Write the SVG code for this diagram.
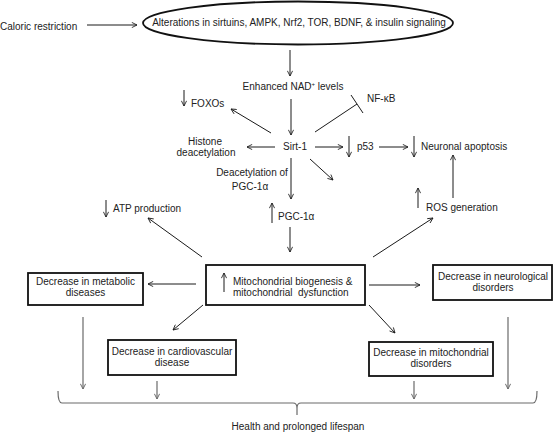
<svg xmlns="http://www.w3.org/2000/svg" width="553" height="433" viewBox="0 0 553 433">
<style>
text{font-family:"Liberation Sans",Arial,sans-serif;font-size:10px;fill:#222}
.c{text-anchor:middle}
.ln{stroke:#1a1a1a;stroke-width:1;fill:none}
.ar{stroke:#1a1a1a;stroke-width:1;fill:none;marker-end:url(#ah)}
.gr{stroke:#6a6a6a;stroke-width:1.2;fill:none}
.ga{stroke:#6a6a6a;stroke-width:1.2;fill:none;marker-end:url(#ahg)}
.box{fill:#fff;stroke:#111;stroke-width:1.8}
</style>
<defs>
<marker id="ah" viewBox="0 0 10 10" refX="9" refY="5" markerWidth="6.5" markerHeight="6.5" orient="auto" markerUnits="userSpaceOnUse"><path d="M1,1 L9,5 L1,9" fill="none" stroke="#1a1a1a" stroke-width="1.3"/></marker>
<marker id="ahg" viewBox="0 0 10 10" refX="9" refY="5" markerWidth="6.5" markerHeight="6.5" orient="auto" markerUnits="userSpaceOnUse"><path d="M1,1 L9,5 L1,9" fill="none" stroke="#6a6a6a" stroke-width="1.5"/></marker>
</defs>
<rect width="553" height="433" fill="#fff"/>

<g id="caloric"><text x="0" y="29.5">Caloric restriction</text></g>
<g id="alterations"><ellipse cx="298" cy="23" rx="155" ry="21.5" fill="#fff" stroke="#111" stroke-width="1.8"/><text class="c" x="299" y="26">Alterations in sirtuins, AMPK, Nrf2, TOR, BDNF, &amp; insulin signaling</text></g>
<g id="nad"><text class="c" x="293" y="90">Enhanced NAD<tspan font-size="6" dy="-4">+</tspan><tspan dy="4"> levels</tspan></text></g>
<g id="foxos"><line class="ar" x1="184" y1="90" x2="184" y2="106"/><text x="191" y="107">FOXOs</text></g>
<g id="nfkb"><text x="367" y="102">NF-κB</text></g>
<g id="sirt1"><text class="c" x="295" y="150">Sirt-1</text></g>
<g id="histone"><text class="c" x="205" y="145">Histone</text><text class="c" x="206" y="156">deacetylation</text></g>
<g id="p53"><line class="ar" x1="349" y1="136" x2="349" y2="157"/><text x="357" y="150">p53</text></g>
<g id="apoptosis"><line class="ar" x1="414" y1="136" x2="414" y2="157"/><text x="421" y="150">Neuronal apoptosis</text></g>
<g id="deacetylation"><text class="c" x="252" y="176">Deacetylation of</text><text class="c" x="250" y="190">PGC-1α</text></g>
<g id="atp"><line class="ar" x1="106" y1="200" x2="106" y2="217"/><text x="113" y="212">ATP production</text></g>
<g id="pgc"><line class="ar" x1="272" y1="223" x2="272" y2="203"/><text x="278" y="220">PGC-1α</text></g>
<g id="ros"><line class="ar" x1="418" y1="208" x2="418" y2="188"/><text x="426" y="211">ROS generation</text></g>
<g id="mito"><rect class="box" x="206" y="265" width="159" height="40"/><line class="ar" x1="224" y1="292" x2="224" y2="273"/><text x="233" y="285">Mitochondrial biogenesis &amp;</text><text x="233" y="296" style="white-space:pre">mitochondrial  dysfunction</text></g>
<g id="metabolic"><rect class="box" x="28" y="273" width="115" height="32"/><text class="c" x="85.5" y="285">Decrease in metabolic</text><text class="c" x="85.5" y="296">diseases</text></g>
<g id="neuro"><rect class="box" x="433" y="265" width="119" height="35"/><text class="c" x="493" y="280">Decrease in neurological</text><text class="c" x="493" y="291">disorders</text></g>
<g id="cardio"><rect class="box" x="108" y="340" width="128" height="35"/><text class="c" x="172" y="355">Decrease in cardiovascular</text><text class="c" x="172" y="366">disease</text></g>
<g id="mitodis"><rect class="box" x="369" y="342" width="124" height="34"/><text class="c" x="431" y="356">Decrease in mitochondrial</text><text class="c" x="431" y="367">disorders</text></g>
<g id="health"><text class="c" x="298" y="430">Health and prolonged lifespan</text></g>

<g id="connectors">
<line class="ar" x1="87" y1="25" x2="137" y2="25"/>
<line class="ar" x1="290" y1="50" x2="290" y2="76"/>
<line class="ar" x1="291" y1="99" x2="291" y2="135"/>
<line class="ar" x1="271" y1="133" x2="231" y2="109"/>
<line class="ln" x1="315" y1="132" x2="357" y2="104"/>
<line class="ln" x1="351" y1="95" x2="363" y2="113"/>
<line class="ar" x1="275" y1="147" x2="247" y2="147"/>
<line class="ar" x1="315" y1="147" x2="343" y2="147"/>
<line class="ar" x1="379" y1="147" x2="408" y2="147"/>
<line class="ar" x1="291" y1="158" x2="291" y2="199"/>
<line class="ar" x1="310" y1="159" x2="333" y2="180"/>
<line class="ar" x1="290" y1="227" x2="290" y2="252"/>
<line class="ar" x1="202" y1="257" x2="148" y2="218"/>
<line class="ar" x1="373" y1="257" x2="433" y2="218"/>
<line class="ar" x1="453" y1="198" x2="453" y2="155"/>
<line class="ar" x1="196" y1="284" x2="148" y2="284"/>
<line class="ar" x1="369" y1="285" x2="420" y2="285"/>
<line class="ar" x1="203" y1="305" x2="173" y2="330"/>
<line class="ar" x1="369" y1="305" x2="395" y2="333"/>
<line class="ga" x1="83" y1="317" x2="83" y2="389"/>
<line class="ga" x1="508" y1="317" x2="508" y2="389"/>
<line class="ga" x1="157" y1="381" x2="157" y2="399"/>
<line class="ga" x1="414" y1="381" x2="414" y2="399"/>
<path class="gr" d="M58,391 Q58,403 62,403 H293 Q297,403 297,408 V415 M297,408 Q297,403 301,403 H533 Q537,403 537,391"/>
</g>
</svg>
